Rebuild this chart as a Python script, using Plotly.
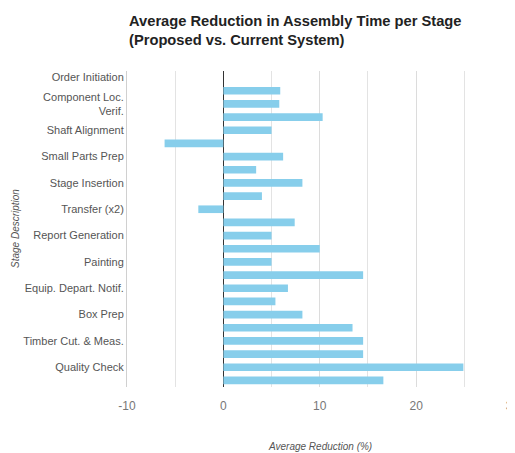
import plotly.graph_objects as go

# Data (24 stage rows, top to bottom)
row_index = list(range(24))
reduction_pct = [0, 5.9, 5.8, 10.3, 5.0, -6.1, 6.2, 3.4, 8.2, 4.0, -2.6, 7.4,
                 5.0, 10.0, 5.0, 14.5, 6.7, 5.4, 8.2, 13.4, 14.5, 14.5, 24.9, 16.6]
label_rows = [0, 2, 4, 6, 8, 10, 12, 14, 16, 18, 20, 22]
stage_labels = ["Order Initiation", "Component Loc.<br>Verif.", "Shaft Alignment",
                "Small Parts Prep", "Stage Insertion", "Transfer (x2)",
                "Report Generation", "Painting", "Equip. Depart. Notif.",
                "Box Prep", "Timber Cut. & Meas.", "Quality Check"]
x_ticks = [-10, 0, 10, 20, 30]

FONT = "Liberation Sans, Arial, sans-serif"

fig = go.Figure(go.Bar(
    x=reduction_pct, y=row_index, orientation="h",
    marker=dict(color="#87CEEB", line=dict(width=0)),
    width=0.58,
))

# page body has an 8px default margin, so the figure is sized to fit the window
fig.update_layout(
    width=507, height=445,
    margin=dict(l=119, r=2, t=63, b=66, autoexpand=False),
    paper_bgcolor="white", plot_bgcolor="white",
    showlegend=False,
    font=dict(family=FONT, color="#555"),
    xaxis=dict(
        range=[-10, 30.05], tickvals=x_ticks, ticktext=[str(v) for v in x_ticks],
        showgrid=True, gridcolor="#dcdcdc", gridwidth=1,
        minor=dict(dtick=5, tick0=0, showgrid=True, gridcolor="#e3e3e3", gridwidth=1),
        zeroline=True, zerolinecolor="#333", zerolinewidth=1.2,
        showline=False, ticks="outside", ticklen=8, tickcolor="rgba(0,0,0,0)",
        tickfont=dict(family=FONT, size=12, color="#777"),
        ticklabeloverflow="allow",
        automargin=False, fixedrange=True,
    ),
    yaxis=dict(
        range=[23.5, -0.5], tickvals=label_rows, ticktext=stage_labels,
        showgrid=False, zeroline=False,
        showline=True, linecolor="#d0d0d0", linewidth=1,
        ticks="", tickfont=dict(family=FONT, size=11, color="#555"),
        automargin=False, fixedrange=True,
    ),
    annotations=[
        dict(text="<b>Average Reduction in Assembly Time per Stage<br>(Proposed vs. Current System)</b>",
             xref="paper", yref="paper", x=0, y=1 + 60 / 316,
             xanchor="left", yanchor="top", align="left", showarrow=False,
             font=dict(family=FONT, size=14.7, color="#222")),
        dict(text="<i>Average Reduction (%)</i>", xref="paper", yref="paper",
             x=0.5, y=-59 / 316, xanchor="center", yanchor="middle", showarrow=False,
             font=dict(family=FONT, size=10, color="#555")),
        dict(text="<i>Stage Description</i>", xref="paper", yref="paper",
             x=-112 / 386, y=0.5, xanchor="center", yanchor="middle", textangle=-90,
             showarrow=False, font=dict(family=FONT, size=10, color="#555")),
    ],
)

fig.write_html("out.html")
